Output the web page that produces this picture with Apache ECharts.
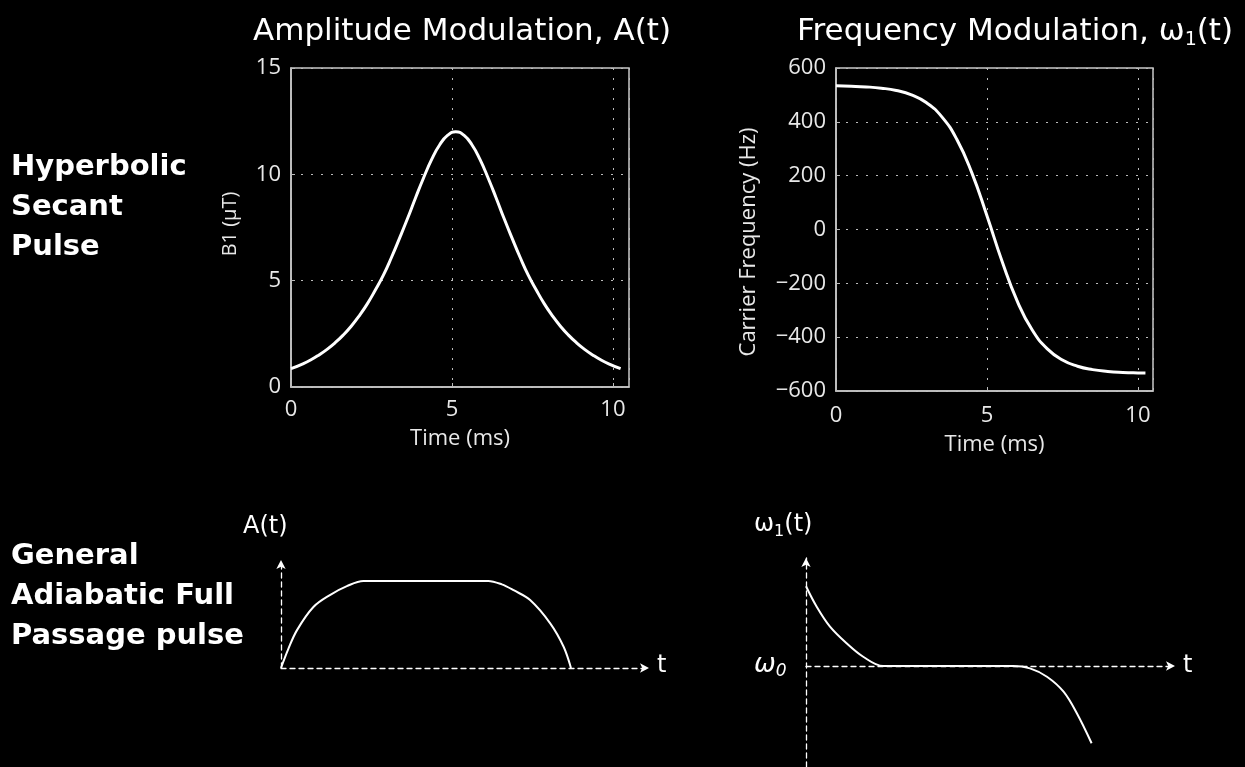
<!DOCTYPE html>
<html><head><meta charset="utf-8">
<script src="https://cdn.jsdelivr.net/npm/echarts@6/dist/echarts.min.js"></script>
<style>html,body{margin:0;padding:0;background:#000;}#c{width:1245px;height:767px;}</style>
</head><body><div id="c"></div>
<script>
// Hyperbolic secant pulse: amplitude (µT) vs time (ms)
const amT = [0, 0.37, 0.62, 0.87, 1.12, 1.37, 1.62, 1.87, 2.12, 2.37, 2.62, 2.87, 3.12, 3.37, 3.62, 3.87, 4.12, 4.37, 4.62, 4.87, 5.12, 5.37, 5.62, 5.87, 6.12, 6.37, 6.62, 6.87, 7.12, 7.37, 7.62, 7.87, 8.12, 8.37, 8.62, 8.87, 9.12, 9.37, 9.62, 9.87, 10.24];
const amB1 = [0.86, 1.09, 1.28, 1.51, 1.77, 2.08, 2.44, 2.86, 3.35, 3.91, 4.56, 5.26, 6.09, 6.99, 7.92, 8.90, 9.84, 10.70, 11.39, 11.84, 12.0, 11.84, 11.39, 10.70, 9.84, 8.90, 7.92, 6.99, 6.09, 5.26, 4.56, 3.91, 3.35, 2.86, 2.44, 2.08, 1.77, 1.51, 1.28, 1.09, 0.86];
// Hyperbolic secant pulse: carrier frequency (Hz) vs time (ms)
const fmT = [0, 0.5, 1, 1.5, 2, 2.5, 3, 3.5, 4, 4.5, 5, 5.5, 6, 6.5, 7, 7.5, 8, 8.5, 9, 9.5, 10, 10.25];
const fmHz = [533.6, 532.2, 529.8, 525.1, 516.4, 500.2, 470.9, 419.4, 335.3, 210.5, 51.2, -117.9, -265.4, -373.6, -443.4, -484.7, -507.9, -520.6, -527.3, -530.9, -532.9, -533.4];
// General adiabatic full passage: schematic amplitude
const gaT = [0, 0.2, 0.435, 0.88, 1.34, 1.79, 2.24, 3.5, 4.5, 5.63, 6.0, 6.32, 6.77, 7.32, 7.68, 7.88];
const gaA = [0, 0.22, 0.435, 0.70, 0.84, 0.94, 1.0, 1.0, 1.0, 1.0, 0.96, 0.893, 0.78, 0.51, 0.244, 0];
// General adiabatic full passage: schematic frequency
const gfT = [0, 0.29, 0.65, 1.10, 1.55, 2.09, 3.0, 4.0, 5.0, 5.61, 6.07, 6.53, 6.98, 7.34, 7.74];
const gfW = [0.79, 0.587, 0.39, 0.225, 0.092, 0, 0, 0, 0, 0, -0.023, -0.106, -0.254, -0.468, -0.765];
const titles = ['{a|Amplitude Modulation, A(t)}', '{a|Frequency Modulation, ω}{s|1}{a|(t)}'];
const rowLabels = ['Hyperbolic\nSecant\nPulse', 'General\nAdiabatic Full\nPassage pulse'];
const yNames = ['B1 (µT)', 'Carrier Frequency (Hz)'];

const zip = (a, b) => a.map((v, i) => [v, b[i]]);
const TF = 'Open Sans';
const HF = 'DejaVu Sans';
const minus = v => String(v).replace('-', '\u2212');

const topX = (gi, gap, margin) => ({
  gridIndex: gi, type: 'value', min: 0, max: 10.5, interval: 5,
  name: 'Time (ms)', nameLocation: 'middle', nameGap: gap,
  nameTextStyle: {color: '#e8e8e8', fontFamily: TF, fontSize: 22},
  axisLine: {show: true, onZero: false, lineStyle: {color: '#c8c8c8', width: 1.5}},
  axisTick: {show: true, inside: true, length: 4, lineStyle: {color: '#bbb'}},
  axisLabel: {color: '#e8e8e8', fontFamily: TF, fontSize: 22, margin, showMaxLabel: false},
  splitLine: {show: true, lineStyle: {color: '#bbb', type: [2, 8], width: 1}}
});
const topY = (gi, min, max, interval) => ({
  gridIndex: gi, type: 'value', min, max, interval,
  axisLine: {show: true, onZero: false, lineStyle: {color: '#c8c8c8', width: 1.5}},
  axisTick: {show: true, inside: true, length: 4, lineStyle: {color: '#bbb'}},
  axisLabel: {color: '#e8e8e8', fontFamily: TF, fontSize: 22, margin: 10, formatter: minus},
  splitLine: {show: true, lineStyle: {color: '#bbb', type: [2, 8], width: 1}}
});
const dashAxis = {show: true, symbol: ['none', 'arrow'], symbolSize: [7, 9],
  lineStyle: {color: '#fff', type: [5, 4], width: 1.3}};
const schemX = (gi) => ({gridIndex: gi, type: 'value', min: 0, max: 10,
  axisLine: dashAxis, axisTick: {show: false}, axisLabel: {show: false}, splitLine: {show: false}});
const schemY = (gi, min, max) => ({gridIndex: gi, type: 'value', min, max,
  axisLine: dashAxis, axisTick: {show: false}, axisLabel: {show: false}, splitLine: {show: false}});

const titleRich = {
  a: {color: '#fff', fontFamily: HF, fontSize: 31, fontWeight: 'normal', lineHeight: 36},
  s: {color: '#fff', fontFamily: HF, fontSize: 19, fontWeight: 'normal', lineHeight: 19, verticalAlign: 'bottom'}
};
const labRich = {
  a: {fill: '#fff', fontFamily: HF, fontSize: 24, lineHeight: 30},
  s: {fill: '#fff', fontFamily: HF, fontSize: 16, lineHeight: 16, verticalAlign: 'bottom'},
  i: {fill: '#fff', fontFamily: HF, fontSize: 26, fontStyle: 'italic', lineHeight: 30},
  si: {fill: '#fff', fontFamily: HF, fontSize: 17, fontStyle: 'italic', lineHeight: 17, verticalAlign: 'bottom'}
};

const chart = echarts.init(document.getElementById('c'));
chart.setOption({
  backgroundColor: '#000',
  animation: false,
  title: [
    {text: titles[0], left: 457, top: 9, textAlign: 'center', textStyle: {fontWeight: 'normal', rich: titleRich}},
    {text: titles[1], left: 1010, top: 9, textAlign: 'center', textStyle: {fontWeight: 'normal', rich: titleRich}}
  ],
  grid: [
    {left: 291, top: 68, width: 338, height: 319, show: true, borderColor: '#c8c8c8', borderWidth: 1.5, backgroundColor: 'transparent'},
    {left: 836, top: 68, width: 317, height: 323, show: true, borderColor: '#c8c8c8', borderWidth: 1.5, backgroundColor: 'transparent'},
    {left: 281, top: 560, width: 368, height: 108},
    {left: 806, top: 558, width: 369, height: 209}
  ],
  xAxis: [topX(0, 41, 12), topX(1, 43, 14), schemX(2), schemX(3)],
  yAxis: [
    topY(0, 0, 15, 5),
    topY(1, -600, 600, 200),
    schemY(2, 0, 1.24),
    schemY(3, -1, 1.07)
  ],
  series: [
    {type: 'line', xAxisIndex: 0, yAxisIndex: 0, data: zip(amT, amB1), smooth: true, showSymbol: false, lineStyle: {color: '#fff', width: 3}},
    {type: 'line', xAxisIndex: 1, yAxisIndex: 1, data: zip(fmT, fmHz), smooth: true, showSymbol: false, lineStyle: {color: '#fff', width: 3}},
    {type: 'line', xAxisIndex: 2, yAxisIndex: 2, data: zip(gaT, gaA), smooth: 0.35, showSymbol: false, lineStyle: {color: '#fff', width: 2}},
    {type: 'line', xAxisIndex: 3, yAxisIndex: 3, data: zip(gfT, gfW), smooth: 0.35, showSymbol: false, lineStyle: {color: '#fff', width: 2}}
  ],
  graphic: [
    {type: 'text', x: 230, y: 224, rotation: Math.PI / 2, style: {text: yNames[0], fill: '#e8e8e8', font: '20px "Open Sans"', align: 'center', verticalAlign: 'middle'}},
    {type: 'text', x: 749, y: 242, rotation: Math.PI / 2, style: {text: yNames[1], fill: '#e8e8e8', font: '22px "Open Sans"', align: 'center', verticalAlign: 'middle'}},
    {type: 'text', left: 11, top: 147, style: {text: rowLabels[0], fill: '#fff', font: 'bold 29px "DejaVu Sans"', lineHeight: 40}},
    {type: 'text', left: 11, top: 536, style: {text: rowLabels[1], fill: '#fff', font: 'bold 29px "DejaVu Sans"', lineHeight: 40}},
    {type: 'text', left: 243, top: 515, style: {text: '{a|A(t)}', rich: labRich}},
    {type: 'text', left: 657, top: 654, style: {text: 't', fill: '#fff', font: '24px "DejaVu Sans"'}},
    {type: 'text', left: 754, top: 513, style: {text: '{a|ω}{s|1}{a|(t)}', rich: labRich}},
    {type: 'text', left: 1183, top: 654, style: {text: 't', fill: '#fff', font: '24px "DejaVu Sans"'}},
    {type: 'text', left: 754, top: 652, style: {text: '{i|ω}{si|0}', rich: labRich}}
  ]
});
</script></body></html>
